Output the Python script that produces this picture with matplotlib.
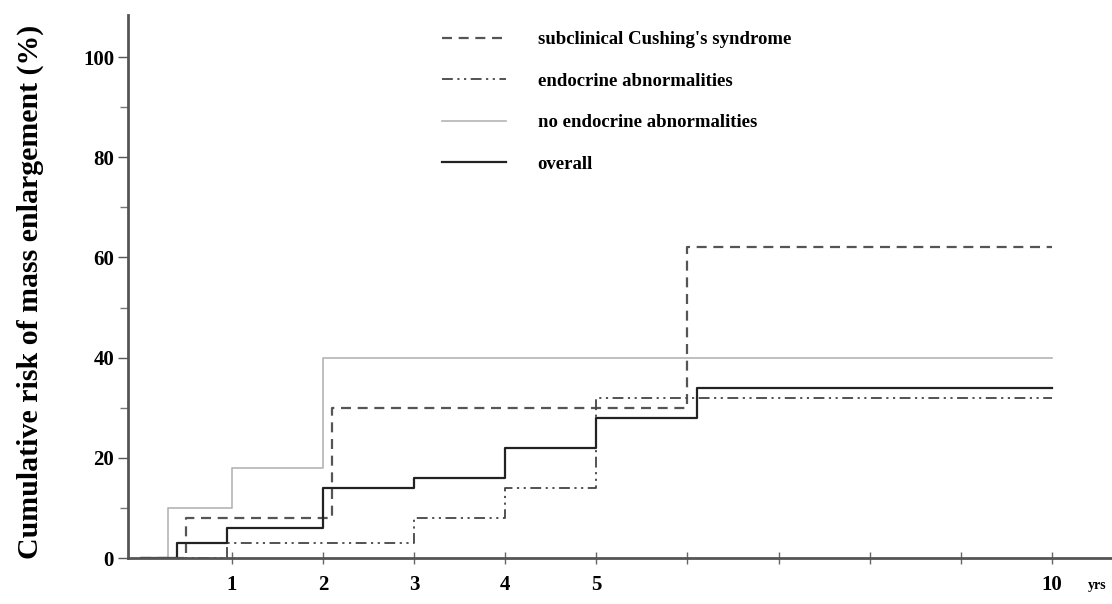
import matplotlib
matplotlib.use('Agg')
import matplotlib.pyplot as plt
from matplotlib.ticker import MultipleLocator, FixedLocator

# step curves (years, cumulative risk %)
subclin_t = [0.5, 2.1, 6.0]
subclin_r = [8, 30, 62]
endo_t = [0.95, 3.0, 4.0, 5.0]
endo_r = [3, 8, 14, 32]
noendo_t = [0.3, 1.0, 2.0]
noendo_r = [10, 18, 40]
overall_t = [0.4, 0.95, 2.0, 3.0, 4.0, 5.0, 6.1]
overall_r = [3, 6, 14, 16, 22, 28, 34]
t_end = 10

x_ticks = [1, 2, 3, 4, 5, 6, 7, 8, 9, 10]
x_ticklabels = ['1', '2', '3', '4', '5', '', '', '', '', '10']

plt.rcParams['font.family'] = ['Liberation Serif', 'DejaVu Serif']
plt.rcParams['font.weight'] = 'bold'


def steps(t, r):
    xs = [0] + list(t) + [t_end]
    ys = [0] + list(r) + [r[-1]]
    return xs, ys


fig = plt.figure(figsize=(11.12, 6.04), dpi=100)
ax = fig.add_axes([128/1112, 46/604, 1 - 128/1112, (558-15)/604])

x, y = steps(noendo_t, noendo_r)
ax.plot(x, y, drawstyle='steps-post', color='#b4b4b4', lw=1.2,
        label='no endocrine abnormalities')
x, y = steps(subclin_t, subclin_r)
ax.plot(x, y, drawstyle='steps-post', color='#555555', lw=1.6,
        ls=(0, (4.5, 3)), label="subclinical Cushing's syndrome")
x, y = steps(endo_t, endo_r)
ax.plot(x, y, drawstyle='steps-post', color='#444444', lw=1.3,
        ls=(0, (6, 2.5, 1.2, 2.5, 1.2, 2.5)), label='endocrine abnormalities')
x, y = steps(overall_t, overall_r)
ax.plot(x, y, drawstyle='steps-post', color='#222222', lw=1.6, label='overall')

ax.set_xlim(-0.14, 10.66)
ax.set_ylim(0, 108.4)

ax.spines['top'].set_color('none')
ax.spines['right'].set_color('none')
ax.spines['left'].set_color('#555555')
ax.spines['bottom'].set_color('#555555')
ax.spines['left'].set_linewidth(2)
ax.spines['bottom'].set_linewidth(2)

ax.yaxis.set_major_locator(MultipleLocator(20))
ax.yaxis.set_minor_locator(MultipleLocator(10))
ax.xaxis.set_major_locator(FixedLocator(x_ticks))
ax.set_xticklabels(x_ticklabels)
ax.tick_params(axis='y', which='major', direction='out', length=7, width=1,
               color='#555555', labelsize=15, pad=3)
ax.tick_params(axis='y', which='minor', direction='out', length=6, width=1,
               color='#777777')
ax.tick_params(axis='x', direction='inout', length=9, width=1,
               color='#666666', labelsize=15, pad=8)

h, l = ax.get_legend_handles_labels()
order = [1, 2, 0, 3]
ax.legend([h[i] for i in order], [l[i] for i in order], loc='upper left',
          bbox_to_anchor=(442/1112, 1 - 31/604), bbox_transform=fig.transFigure,
          frameon=False, fontsize=13.5, handlelength=3.4, handletextpad=1.7,
          labelspacing=1.3, borderpad=0, borderaxespad=0)

fig.text(30/1112, 1 - 292/604, 'Cumulative risk of mass enlargement (%)',
         rotation=90, ha='center', va='center', fontsize=21.5, fontweight='bold')
fig.text(1088/1112, 1 - 585/604, 'yrs', ha='left', va='center', fontsize=10,
         fontweight='bold')

plt.savefig('out.png', dpi=100)
